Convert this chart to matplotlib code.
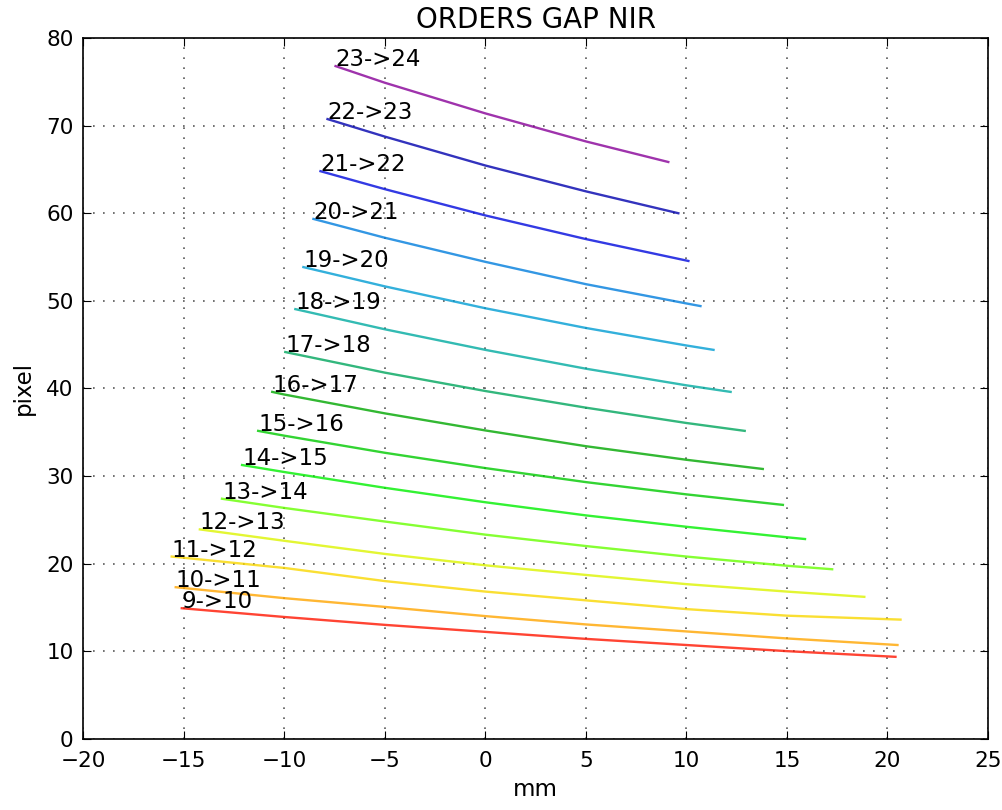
import numpy as np
import matplotlib.pyplot as plt

# gap position (mm) and pixel value for each order pair
x09 = [-15.1, -10, -5, 0, 5, 10, 15, 20.4]
y09 = [14.9, 13.9, 13.0, 12.2, 11.4, 10.7, 10.0, 9.35]
x10 = [-15.4, -10, -5, 0, 5, 10, 15, 20.5]
y10 = [17.3, 16.05, 15.05, 14.0, 13.05, 12.25, 11.45, 10.7]
x11 = [-15.6, -10, -5, 0, 5, 10, 15, 20.65]
y11 = [20.8, 19.5, 18.0, 16.8, 15.8, 14.8, 14.05, 13.6]
x12 = [-14.2, -10, -5, 0, 5, 10, 15, 18.85]
y12 = [23.9, 22.6, 21.1, 19.8, 18.7, 17.65, 16.8, 16.2]
x13 = [-13.1, -10, -5, 0, 5, 10, 15, 17.25]
y13 = [27.4, 26.35, 24.8, 23.3, 22.0, 20.8, 19.75, 19.35]
x14 = [-12.1, -10, -5, 0, 5, 10, 15, 15.9]
y14 = [31.25, 30.45, 28.65, 27.0, 25.5, 24.2, 23.0, 22.8]
x15 = [-11.3, -10, -5, 0, 5, 10, 14.8]
y15 = [35.15, 34.6, 32.65, 30.9, 29.3, 27.9, 26.7]
x16 = [-10.6, -10, -5, 0, 5, 10, 13.8]
y16 = [39.6, 39.3, 37.15, 35.2, 33.4, 31.85, 30.8]
x17 = [-9.95, -5, 0, 5, 10, 12.9]
y17 = [44.15, 41.8, 39.7, 37.8, 36.05, 35.15]
x18 = [-9.45, -5, 0, 5, 10, 12.2]
y18 = [49.05, 46.75, 44.4, 42.25, 40.35, 39.6]
x19 = [-9.05, -5, 0, 5, 10, 11.35]
y19 = [53.85, 51.65, 49.15, 46.9, 44.9, 44.4]
x20 = [-8.55, -5, 0, 5, 10, 10.7]
y20 = [59.35, 57.2, 54.45, 51.9, 49.7, 49.4]
x21 = [-8.2, -5, 0, 5, 10.1]
y21 = [64.8, 62.75, 59.75, 57.05, 54.55]
x22 = [-7.85, -5, 0, 5, 9.6]
y22 = [70.75, 68.75, 65.45, 62.5, 60.0]
x23 = [-7.45, -5, 0, 5, 9.1]
y23 = [76.8, 74.9, 71.4, 68.2, 65.85]

labels = ["9->10", "10->11", "11->12", "12->13", "13->14", "14->15",
          "15->16", "16->17", "17->18", "18->19", "19->20", "20->21",
          "21->22", "22->23", "23->24"]
all_x = [x09, x10, x11, x12, x13, x14, x15, x16, x17, x18, x19, x20, x21, x22, x23]
all_y = [y09, y10, y11, y12, y13, y14, y15, y16, y17, y18, y19, y20, y21, y22, y23]

colors = plt.cm.nipy_spectral(np.linspace(0.84, 0.10, len(labels)))

plt.rcParams['font.family'] = 'DejaVu Sans'
fig = plt.figure(figsize=(10.03, 8.10), dpi=100)
ax = fig.add_axes([0.083, 0.088, 0.902, 0.865])

for xs, ys, lab, c in zip(all_x, all_y, labels, colors):
    ax.plot(xs, ys, color=c, lw=1.7, alpha=0.8)
    ax.text(xs[0], ys[0], lab, ha='left', va='baseline', fontsize=16.5)

ax.set_xlim(-20, 25)
ax.set_ylim(0, 80)
ax.set_xticks(range(-20, 26, 5))
ax.set_yticks(range(0, 81, 10))
ax.grid(True, color='0.35', linestyle=(0, (1, 5)), linewidth=1.2)
ax.tick_params(direction='in', top=True, right=True, length=6, labelsize=15.5)
ax.tick_params(axis='x', pad=9)
ax.tick_params(axis='y', pad=7)
for sp in ax.spines.values():
    sp.set_linewidth(1.2)
ax.set_title("ORDERS GAP NIR", fontsize=20, pad=7)
ax.set_xlabel("mm", fontsize=16.5, labelpad=5)
ax.set_ylabel("pixel", fontsize=16.5, labelpad=8)

fig.savefig("out.png", dpi=100, facecolor='white')
plt.close(fig)
